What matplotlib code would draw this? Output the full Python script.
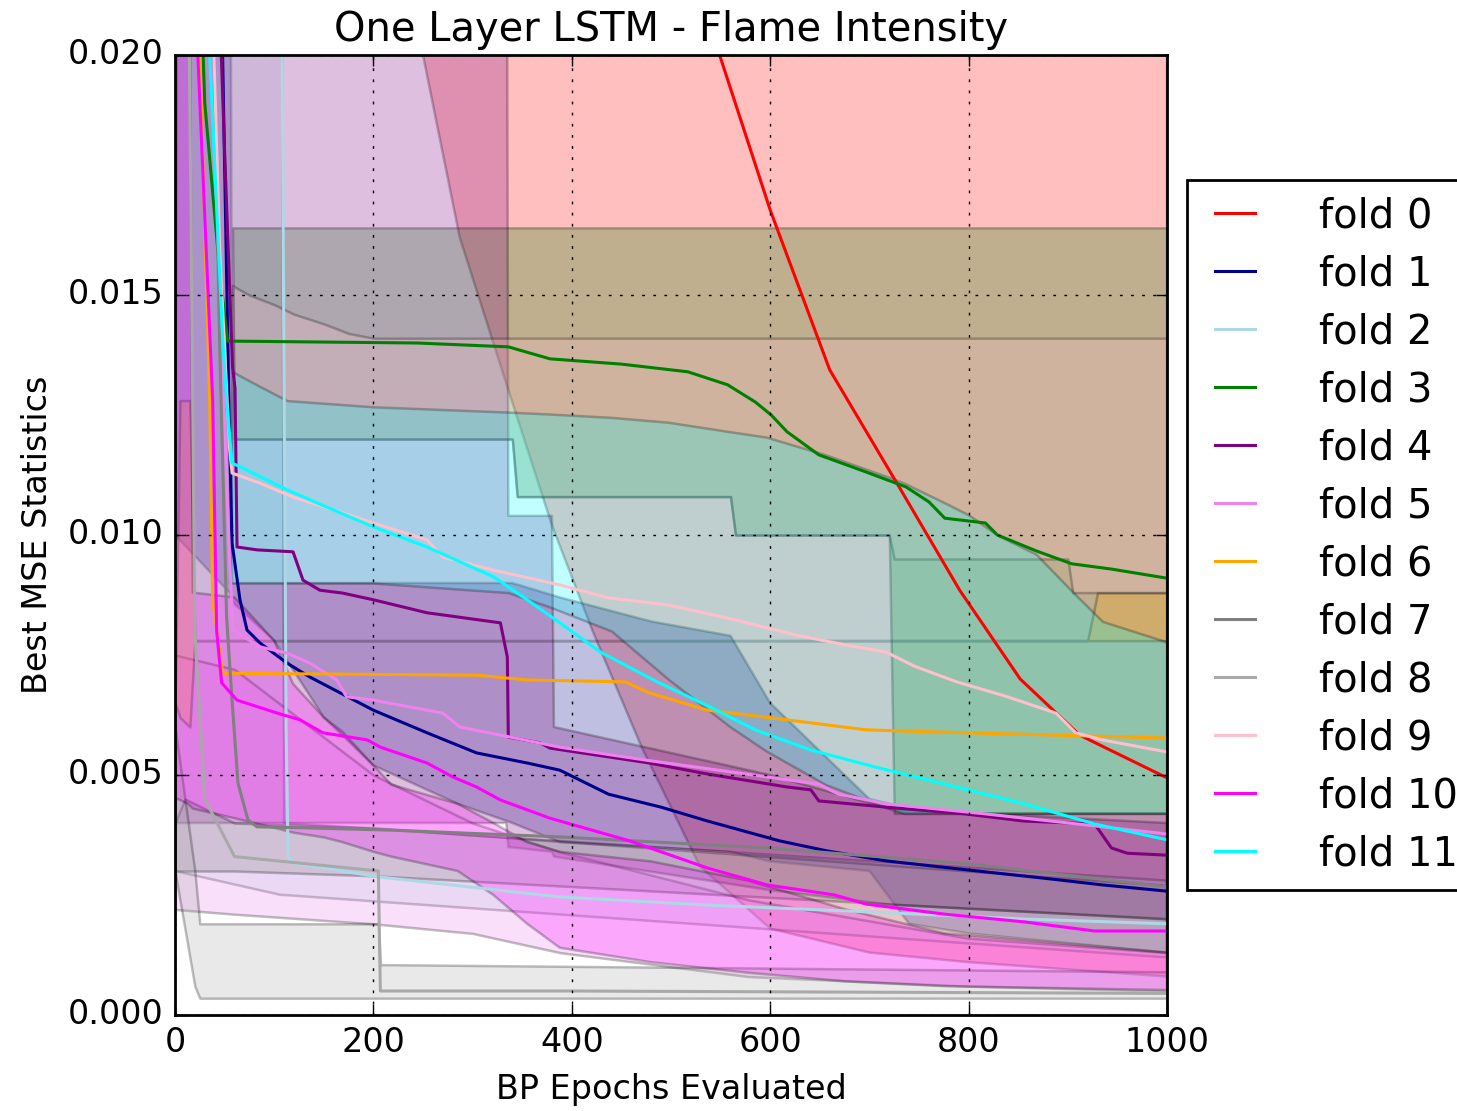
import numpy as np
import matplotlib
matplotlib.use("Agg")
import matplotlib.pyplot as plt
from matplotlib.ticker import FormatStrFormatter

# -----------------------------
# Data (epoch, best MSE)
# -----------------------------
fold_names = ["fold %d" % i for i in range(12)]
fold_colors = ["red", "darkblue", "lightblue", "green", "purple", "violet",
               "orange", "gray", "darkgray", "pink", "magenta", "cyan"]

# fold 0
f0_x = [350, 400, 450, 500, 549, 600, 660, 730, 791, 852, 912, 1000]
f0_y = [0.045, 0.035, 0.0272, 0.0235, 0.0200, 0.01677, 0.01344, 0.0110, 0.00885, 0.0070, 0.00583, 0.00494]
f0_bx = [0, 230, 250, 287, 341, 380, 421, 470, 529, 600, 700, 800, 1000]
f0_lo = [0.03, 0.03, 0.0200, 0.0162, 0.0127, 0.0102, 0.0080, 0.0056, 0.0031, 0.0018, 0.0013, 0.0011, 0.0008]
f0_hi = [0.03] * 13

# fold 1
f1_x = [35, 48, 55, 57.5, 65.5, 72.6, 85.7, 113, 136, 200, 254, 304, 355, 388, 437, 490, 537, 609, 657, 717, 800, 876, 935, 1000]
f1_y = [0.03, 0.020, 0.012, 0.00983, 0.00865, 0.00802, 0.00775, 0.00733, 0.00704, 0.00635, 0.00588, 0.00546, 0.00525,
        0.0051, 0.0046, 0.00433, 0.00404, 0.00363, 0.00342, 0.00321, 0.00302, 0.00285, 0.00271, 0.00258]
f1_bx = [0, 55, 58, 100, 150, 200, 285, 340, 388, 480, 560, 600, 700, 740, 800, 1000]
f1_lo = [0.0100, 0.0088, 0.0086, 0.0078, 0.0062, 0.0052, 0.0044, 0.0040, 0.0036, 0.0035, 0.0034, 0.0032, 0.0030,
         0.0019, 0.0017, 0.0013]
f1_hi = [0.03, 0.03, 0.0090, 0.0090, 0.0090, 0.0090, 0.0090, 0.0090, 0.0087, 0.0082, 0.0079, 0.0065, 0.0045,
         0.0043, 0.0042, 0.0042]

# fold 2
f2_x = [100, 108, 112, 114, 119, 204, 388, 537, 697, 856, 1000]
f2_y = [0.03, 0.02, 0.006, 0.00329, 0.00317, 0.00288, 0.00246, 0.00229, 0.00215, 0.0020, 0.0019]
f2_bx = [0, 107, 110, 1000]
f2_lo = [0.0030, 0.0025, 0.0025, 0.0012]
f2_hi = [0.03, 0.03, 0.0040, 0.0028]

# fold 3
f3_x = [20, 30, 45, 53, 244, 336, 378, 450, 517, 557, 585, 601, 617, 649, 697, 737, 760, 776, 817, 829, 868, 904, 944, 1000]
f3_y = [0.025, 0.019, 0.0155, 0.01404, 0.0140, 0.01392, 0.01367, 0.01356, 0.0134, 0.01313, 0.01277, 0.0125, 0.01215,
        0.01167, 0.01131, 0.0110, 0.01069, 0.01035, 0.01025, 0.0100, 0.00967, 0.0094, 0.00929, 0.0091]
f3_bx = [58, 60, 340, 345, 560, 565, 720, 725, 1000]
f3_lo = [0.0164, 0.0120, 0.0120, 0.0108, 0.0108, 0.0100, 0.0100, 0.0042, 0.0042]
f3_hi = [0.0164] * 9

# fold 4
f4_x = [30, 50, 58, 60.5, 62.5, 82.7, 119, 129, 146, 169, 200, 254, 328, 335, 336, 368, 378, 478, 537, 617, 641,
        649, 717, 796, 856, 927, 944, 960, 1000]
f4_y = [0.03, 0.018, 0.0135, 0.01306, 0.00975, 0.00969, 0.00965, 0.00906, 0.00885, 0.00879, 0.00865, 0.00838,
        0.00817, 0.00746, 0.00579, 0.00567, 0.00556, 0.00525, 0.00502, 0.00475, 0.00469, 0.00446, 0.00433, 0.00419,
        0.00404, 0.00398, 0.00348, 0.00337, 0.00333]
f4_bx = [0, 334, 336, 380, 382, 600, 720, 1000]
f4_lo = [0.0040, 0.0040, 0.0035, 0.0034, 0.0033, 0.0026, 0.0023, 0.0020]
f4_hi = [0.03, 0.03, 0.0104, 0.0104, 0.0060, 0.0050, 0.0043, 0.0040]

# fold 5
f5_x = [25, 45, 55, 58.5, 85.7, 113, 136, 163, 173, 200, 270, 287, 338, 388, 478, 649, 669, 717, 817, 927, 1000]
f5_y = [0.03, 0.015, 0.0095, 0.00802, 0.00767, 0.00754, 0.00733, 0.00698, 0.00663, 0.00656, 0.00629, 0.0060,
        0.00579, 0.00558, 0.0053, 0.00481, 0.0046, 0.0044, 0.00419, 0.00394, 0.00377]
f5_bx = [0, 60, 200, 300, 388, 578, 800, 1000]
f5_lo = [0.0022, 0.0021, 0.0019, 0.0017, 0.0013, 0.0008, 0.0006, 0.0005]
f5_hi = [0.0075, 0.0072, 0.0050, 0.0040, 0.0034, 0.0024, 0.0016, 0.0013]

# fold 6
f6_x = [20, 25, 35, 38, 48, 304, 355, 454, 478, 537, 601, 697, 796, 1000]
f6_y = [0.03, 0.020, 0.0128, 0.00865, 0.00712, 0.00708, 0.00698, 0.00694, 0.00671, 0.00635, 0.00619, 0.00594,
        0.00588, 0.00577]
f6_bx = [0, 5, 15, 20, 920, 930, 1000]
f6_lo = [0.0065, 0.0062, 0.0060, 0.0078, 0.0078, 0.0078, 0.0078]
f6_hi = [0.0065, 0.0128, 0.0128, 0.0078, 0.0078, 0.0088, 0.0088]

# fold 7
f7_x = [30, 45, 52, 57.5, 63.5, 73.6, 82.7, 129, 220, 388, 597, 800, 1000]
f7_y = [0.03, 0.014, 0.0083, 0.00656, 0.00483, 0.00406, 0.00392, 0.0039, 0.00385, 0.00371, 0.00348, 0.00315, 0.00267]
f7_bx = [0, 10, 60, 200, 1000]
f7_lo = [0.0030, 0.0030, 0.0030, 0.0029, 0.0020]
f7_hi = [0.0040, 0.0045, 0.0040, 0.0039, 0.0027]

# fold 8
f8_x = [10, 20, 30, 60, 205, 207, 400, 1000]
f8_y = [0.03, 0.008, 0.0045, 0.0033, 0.0030, 0.0005, 0.0005, 0.00045]
f8_bx = [0, 20, 25, 205, 207, 1000]
f8_lo = [0.0030, 0.0006, 0.00035, 0.00035, 0.00035, 0.00035]
f8_hi = [0.0060, 0.0030, 0.0019, 0.0019, 0.00105, 0.0009]

# fold 9
f9_x = [25, 45, 55, 57.5, 85.7, 119, 169, 200, 254, 270, 321, 388, 437, 498, 557, 625, 676, 717, 745, 788, 836,
        888, 908, 935, 1000]
f9_y = [0.03, 0.016, 0.0118, 0.01129, 0.01108, 0.01079, 0.01046, 0.01025, 0.0099, 0.00954, 0.00927, 0.00896,
        0.00869, 0.00854, 0.00827, 0.00792, 0.00771, 0.00756, 0.00727, 0.00694, 0.00665, 0.00629, 0.00588, 0.00573,
        0.00548]
f9_bx = [58, 60, 75, 100, 120, 150, 175, 200, 340, 345, 560, 565, 720, 725, 900, 905, 1000]
f9_lo = [0.0152, 0.0120, 0.0120, 0.0120, 0.0120, 0.0120, 0.0120, 0.0120, 0.0120, 0.0108, 0.0108, 0.0100, 0.0100,
         0.0095, 0.0095, 0.0088, 0.0088]
f9_hi = [0.0152, 0.01517, 0.0150, 0.0148, 0.0146, 0.0144, 0.0142, 0.0141, 0.0141, 0.0141, 0.0141, 0.0141, 0.0141,
         0.0141, 0.0141, 0.0141, 0.0141]

# fold 10
f10_x = [15, 23, 38, 42, 47, 62.5, 103, 126, 149, 194, 207, 254, 280, 304, 328, 378, 458, 537, 597, 665, 697, 776,
         856, 927, 1000]
f10_y = [0.03, 0.020, 0.0128, 0.0080, 0.00692, 0.00656, 0.00629, 0.00615, 0.00588, 0.00573, 0.00558, 0.00525,
         0.00496, 0.00475, 0.00448, 0.0041, 0.00363, 0.00306, 0.00271, 0.0025, 0.00231, 0.0021, 0.00194, 0.00175,
         0.00175]
f10_bx = [0, 3, 13, 18, 60, 100, 119, 150, 169, 200, 218, 285, 321, 355, 388, 480, 578, 676, 776, 1000]
f10_lo = [0.0045, 0.0045, 0.0044, 0.0043, 0.0041, 0.0039, 0.0038, 0.0037, 0.0036, 0.0034, 0.0033, 0.0030, 0.0025,
          0.0019, 0.0014, 0.0011, 0.00088, 0.0007, 0.0006, 0.00052]
f10_hi = [0.0088, 0.03, 0.03, 0.0088, 0.0087, 0.0078, 0.0069, 0.0062, 0.0059, 0.0052, 0.0048, 0.0044, 0.0040,
          0.0036, 0.0034, 0.0032, 0.0028, 0.0022, 0.0017, 0.0013]

# fold 11
f11_x = [30, 35, 48, 52, 57.5, 72.6, 113, 153, 200, 254, 321, 355, 388, 429, 486, 537, 585, 641, 705, 776, 856, 927, 1000]
f11_y = [0.03, 0.020, 0.0141, 0.0128, 0.0115, 0.01135, 0.01094, 0.01058, 0.01017, 0.00975, 0.00913, 0.00865,
         0.00817, 0.00756, 0.00694, 0.00644, 0.00594, 0.00552, 0.00517, 0.00481, 0.0044, 0.00398, 0.00365]
f11_bx = [55, 58, 85, 113, 200, 336, 378, 440, 497, 560, 596, 656, 720, 735, 776, 800, 829, 868, 908, 935, 1000]
f11_lo = [0.0090, 0.0090, 0.0090, 0.0090, 0.0090, 0.0088, 0.0085, 0.0080, 0.0070, 0.0060, 0.0055, 0.0048,
          0.0043, 0.0042, 0.0042, 0.0042, 0.0042, 0.0042, 0.0042, 0.0042, 0.0042]
f11_hi = [0.0090, 0.0134, 0.0131, 0.0128, 0.01267, 0.01256, 0.01252, 0.01245, 0.01235, 0.01215, 0.01204, 0.01167,
          0.0112, 0.01108, 0.01067, 0.01042, 0.0100, 0.0096, 0.00875, 0.0082, 0.00777]

lines = [(f0_x, f0_y), (f1_x, f1_y), (f2_x, f2_y), (f3_x, f3_y), (f4_x, f4_y), (f5_x, f5_y),
         (f6_x, f6_y), (f7_x, f7_y), (f8_x, f8_y), (f9_x, f9_y), (f10_x, f10_y), (f11_x, f11_y)]
bands = [(f0_bx, f0_lo, f0_hi), (f1_bx, f1_lo, f1_hi), (f2_bx, f2_lo, f2_hi), (f3_bx, f3_lo, f3_hi),
         (f4_bx, f4_lo, f4_hi), (f5_bx, f5_lo, f5_hi), (f6_bx, f6_lo, f6_hi), (f7_bx, f7_lo, f7_hi),
         (f8_bx, f8_lo, f8_hi), (f9_bx, f9_lo, f9_hi), (f10_bx, f10_lo, f10_hi), (f11_bx, f11_lo, f11_hi)]

# -----------------------------
# Plot
# -----------------------------
plt.style.use("classic")
DPI = 200
fig = plt.figure(figsize=(1457 / DPI, 1111 / DPI), dpi=DPI, facecolor="white")
ax = fig.add_axes([175 / 1457, 1 - 1015 / 1111, 992 / 1457, 960 / 1111])

for (bx, lo, hi), c in zip(bands, fold_colors):
    ax.fill_between(bx, lo, hi, facecolor=c, edgecolor="k", alpha=0.25, linewidth=0.9)

for (x, y), c, name in zip(lines, fold_colors, fold_names):
    ax.plot(x, y, color=c, linewidth=1.1, label=name)

ax.set_xlim(0, 1000)
ax.set_ylim(0, 0.020)
ax.set_yticks([0.0, 0.005, 0.010, 0.015, 0.020])
ax.yaxis.set_major_formatter(FormatStrFormatter("%.3f"))
ax.grid(True, linestyle=":", color="k")
ax.set_title("One Layer LSTM - Flame Intensity", fontsize=14.4)
ax.set_xlabel("BP Epochs Evaluated")
ax.set_ylabel("Best MSE Statistics")

ax.legend(loc="center left", bbox_to_anchor=(1.02, 0.5), borderaxespad=0, fontsize=14.4,
          handlelength=1.6, handletextpad=1.3, labelspacing=0.45, fancybox=False)

fig.savefig("out.png", dpi=DPI, facecolor="white")
